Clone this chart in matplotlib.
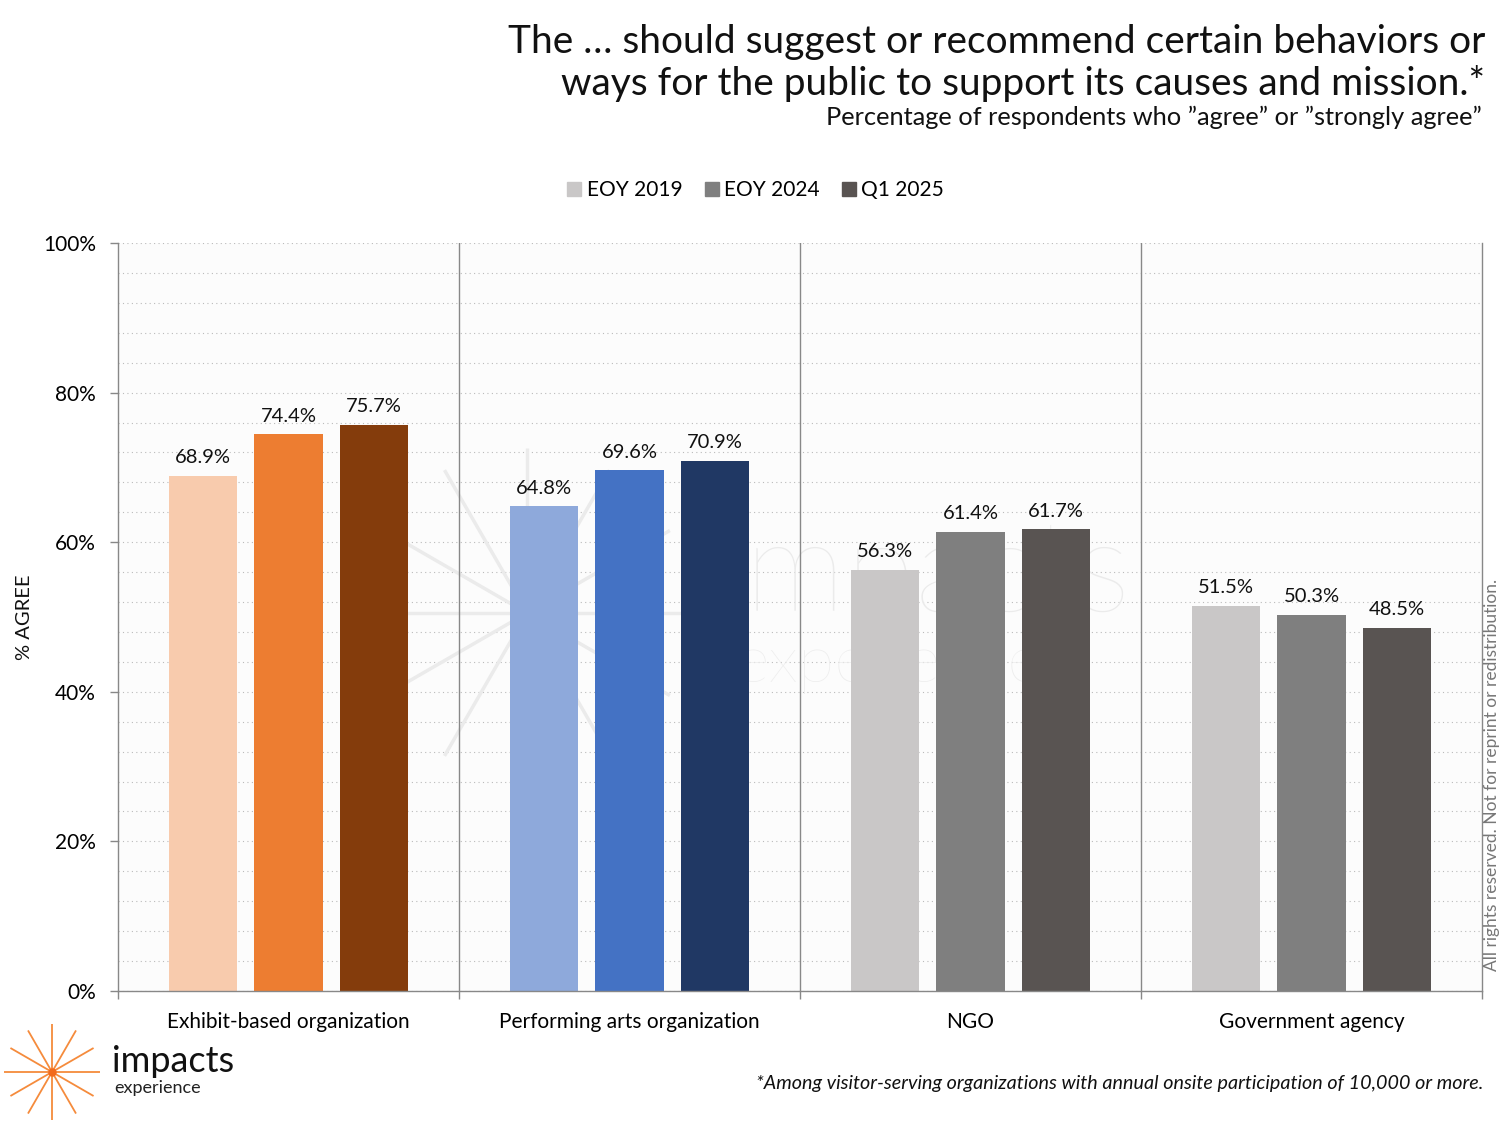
import numpy as np
import matplotlib
matplotlib.use("Agg")
import matplotlib.pyplot as plt
from matplotlib.lines import Line2D


# =====================================
# Data
# =====================================

categories = [
    "Exhibit-based organization",
    "Performing arts organization",
    "NGO",
    "Government agency",
]

series_names = ["EOY 2019", "EOY 2024", "Q1 2025"]

values = [
    [68.9, 74.4, 75.7],
    [64.8, 69.6, 70.9],
    [56.3, 61.4, 61.7],
    [51.5, 50.3, 48.5],
]

bar_colors = [
    ["#F8CBAD", "#ED7D31", "#843C0C"],
    ["#8EA9DB", "#4472C4", "#203864"],
    ["#C9C7C7", "#7F7F7F", "#595452"],
    ["#C9C7C7", "#7F7F7F", "#595452"],
]

legend_colors = ["#C9C7C7", "#7F7F7F", "#595452"]

y_ticks = [0, 20, 40, 60, 80, 100]
y_tick_labels = ["0%", "20%", "40%", "60%", "80%", "100%"]

FONT = ["Lato", "DejaVu Sans"]
plt.rcParams["font.family"] = FONT

W, H = 1500, 1125


# =====================================
# Figure + Axes
# =====================================

fig = plt.figure(figsize=(15, 11.25), dpi=100)
fig.patch.set_facecolor("white")

ax_left, ax_right = 118, 1482
ax_top, ax_bottom = 243, 991

ax = fig.add_axes([
    ax_left / W,
    1 - ax_bottom / H,
    (ax_right - ax_left) / W,
    (ax_bottom - ax_top) / H,
])
ax.set_facecolor("#FCFCFC")


def px_to_axes(px, py):
    return (
        (px - ax_left) / (ax_right - ax_left),
        (ax_bottom - py) / (ax_bottom - ax_top),
    )


# watermark starburst + text inside plot area
wm_cx, wm_cy = px_to_axes(527, 613)
wm_r = 165
for k in range(6):
    ang = np.deg2rad(30 * k)
    dx = wm_r * np.cos(ang) / (ax_right - ax_left)
    dy = wm_r * np.sin(ang) / (ax_bottom - ax_top)
    ax.plot(
        [wm_cx - dx, wm_cx + dx],
        [wm_cy - dy, wm_cy + dy],
        transform=ax.transAxes,
        color="#EBEBEB",
        linewidth=2.5,
        zorder=0.6,
        solid_capstyle="butt",
    )

tx, ty = px_to_axes(718, 610)
ax.text(tx, ty, "impacts", transform=ax.transAxes, fontsize=92,
        color="#EBEBEB", ha="left", va="baseline", zorder=0.6,
        fontweight="light")
tx, ty = px_to_axes(735, 682)
ax.text(tx, ty, "experience", transform=ax.transAxes, fontsize=48,
        color="#EDEDED", ha="left", va="baseline", zorder=0.6,
        fontweight="light")


# =====================================
# Bars
# =====================================

bar_width = 0.2
spacing = 0.25
x = np.arange(len(categories))

for i, cat_vals in enumerate(values):
    for j, v in enumerate(cat_vals):
        xpos = x[i] + (j - 1) * spacing
        ax.bar(xpos, v, width=bar_width, color=bar_colors[i][j], zorder=2)
        ax.annotate(
            f"{v:.1f}%",
            (xpos, v),
            xytext=(0, 7),
            textcoords="offset points",
            ha="center",
            va="bottom",
            fontsize=14.5,
            color="#111111",
            zorder=3,
        )


# =====================================
# Axes styling
# =====================================

ax.set_xlim(-0.5, len(categories) - 0.5)
ax.set_ylim(0, 100)

ax.set_yticks(y_ticks)
ax.set_yticklabels(y_tick_labels, fontsize=15)
ax.set_yticks(np.arange(0, 101, 4), minor=True)

ax.set_xticks(x)
ax.set_xticklabels(categories, fontsize=15)
ax.set_xticks(np.arange(-0.5, len(categories), 1), minor=True)

ax.tick_params(axis="x", which="major", length=0, pad=15)
ax.tick_params(axis="x", which="minor", length=6, color="#888888", width=1)
ax.tick_params(axis="y", which="major", length=6, color="#888888", width=1, pad=10)
ax.tick_params(axis="y", which="minor", length=0)

ax.yaxis.grid(True, which="both", linestyle=(0, (1, 3)),
              color="#BBBBBB", linewidth=0.8, zorder=0.5)
ax.set_axisbelow(True)

for b in x[:-1] + 0.5:
    ax.axvline(b, color="#888888", linewidth=1, zorder=1)

for side in ["left", "bottom", "right"]:
    ax.spines[side].set_color("#888888")
    ax.spines[side].set_linewidth(1)
ax.spines["top"].set_visible(False)

ax.set_ylabel("% AGREE", fontsize=14.5, color="#111111")
ax.yaxis.set_label_coords(-0.0625, 0.5)


# =====================================
# Legend
# =====================================

handles = [
    Line2D([0], [0], marker="s", linestyle="none", markersize=10,
           markerfacecolor=c, markeredgecolor=c)
    for c in legend_colors
]
fig.legend(
    handles,
    series_names,
    loc="center",
    bbox_to_anchor=(754 / W, 1 - 190 / H),
    ncol=3,
    frameon=False,
    fontsize=15,
    handletextpad=0.1,
    columnspacing=0.9,
    handlelength=1.0,
)


# =====================================
# Titles + notes
# =====================================

fig.text(1485 / W, 1 - 42 / H,
         "The \u2026 should suggest or recommend certain behaviors or",
         ha="right", va="center", fontsize=28, color="#111111")
fig.text(1485 / W, 1 - 83 / H,
         "ways for the public to support its causes and mission.*",
         ha="right", va="center", fontsize=28, color="#111111")
fig.text(1482 / W, 1 - 117 / H,
         "Percentage of respondents who \u201dagree\u201d or \u201dstrongly agree\u201d",
         ha="right", va="center", fontsize=18.3, color="#111111")

fig.text(1483 / W, 1 - 1083 / H,
         "*Among visitor-serving organizations with annual onsite participation of 10,000 or more.",
         ha="right", va="center", fontsize=14.2, style="italic", color="#111111")

fig.text(1492 / W, 1 - 775 / H,
         "All rights reserved. Not for reprint or redistribution.",
         ha="center", va="center", rotation=90, fontsize=12.5, color="#777777")


# =====================================
# Logo (bottom left)
# =====================================

logo = fig.add_axes([0, 0, 1, 1], facecolor="none")
logo.set_xlim(0, W)
logo.set_ylim(H, 0)
logo.axis("off")
lcx, lcy, lr = 52, 1072, 48
for k in range(6):
    ang = np.deg2rad(30 * k)
    logo.plot(
        [lcx - lr * np.cos(ang), lcx + lr * np.cos(ang)],
        [lcy - lr * np.sin(ang), lcy + lr * np.sin(ang)],
        color="#F58B3C", linewidth=1.3, solid_capstyle="butt",
    )
logo.plot(lcx, lcy, "o", color="#F26B1D", markersize=5)
logo.text(112, 1072, "impacts", fontsize=26, ha="left", va="baseline",
          color="#111111")
logo.text(114, 1093, "experience", fontsize=13, ha="left", va="baseline",
          color="#222222")


fig.savefig("out.png", dpi=100)
plt.close(fig)
